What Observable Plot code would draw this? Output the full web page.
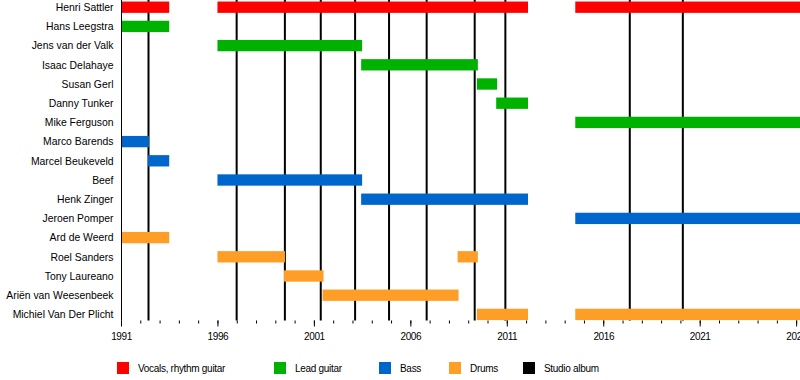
<!DOCTYPE html>
<html>
<head>
<meta charset="utf-8">
<script src="https://cdn.jsdelivr.net/npm/d3@7"></script>
<script src="https://cdn.jsdelivr.net/npm/@observablehq/plot@0.6"></script>
<style>
  html, body { margin: 0; padding: 0; background: white; }
  body { position: relative; width: 800px; height: 380px; overflow: hidden; font-family: "Liberation Sans", Arial, sans-serif; }
  #chart svg { display: block; }
  #chart g[aria-label="x-axis tick label"] text { letter-spacing: -0.4px; }
  .legend { position: absolute; top: 362px; left: 0; width: 800px; height: 14px; }
  .item { position: absolute; top: 0; height: 12px; display: flex; align-items: center; font-size: 10px; letter-spacing: -0.3px; color: black; white-space: nowrap; }
  .sw { width: 12px; height: 12px; margin-right: 9px; flex: none; }
</style>
</head>
<body>
<div id="chart"></div>
<div class="legend" id="legend"></div>
<script>
const START = 1991;
const END = 2026.2;

const members = ["Henri Sattler","Hans Leegstra","Jens van der Valk","Isaac Delahaye","Susan Gerl","Danny Tunker","Mike Ferguson","Marco Barends","Marcel Beukeveld","Beef","Henk Zinger","Jeroen Pomper","Ard de Weerd","Roel Sanders","Tony Laureano","Ariën van Weesenbeek","Michiel Van Der Plicht"];

const roles = ["Vocals, rhythm guitar","Lead guitar","Bass","Drums"];
const roleColors = ["#ff0000","#00b200","#0066cc","#ff9e26"];

const vocals = [["Henri Sattler",1991,1993.5],["Henri Sattler",1996,2012.1],["Henri Sattler",2014.55,END]];
const leadGuitar = [["Hans Leegstra",1991,1993.5],["Jens van der Valk",1996,2003.5],["Isaac Delahaye",2003.45,2009.5],["Susan Gerl",2009.45,2010.5],["Danny Tunker",2010.45,2012.1],["Mike Ferguson",2014.55,END]];
const bass = [["Marco Barends",1991,1992.45],["Marcel Beukeveld",1992.4,1993.5],["Beef",1996,2003.5],["Henk Zinger",2003.45,2012.1],["Jeroen Pomper",2014.55,END]];
const drums = [["Ard de Weerd",1991,1993.5],["Roel Sanders",1996,1999.5],["Roel Sanders",2008.45,2009.5],["Tony Laureano",1999.45,2001.5],["Ariën van Weesenbeek",2001.45,2008.5],["Michiel Van Der Plicht",2009.45,2012.1],["Michiel Van Der Plicht",2014.55,END]];

const albums = [1992.4,1996.97,1999.47,2001.33,2003.11,2004.87,2006.82,2009.31,2010.9,2017.35,2020.1];

const majorTicks = [1991,1996,2001,2006,2011,2016,2021,2026];
const minorTicks = d3.range(1991, 2027);

const legendLabels = ["Vocals, rhythm guitar","Lead guitar","Bass","Drums","Studio album"];
const legendColors = [...roleColors, "#000000"];

const spans = [vocals, leadGuitar, bass, drums].flatMap((list, i) =>
  list.map(([member, start, end]) => ({member, role: roles[i], start, end})));

const chart = Plot.plot({
  width: 800,
  height: 345,
  marginLeft: 121,
  marginRight: 0,
  marginTop: 0,
  marginBottom: 24.5,
  style: {fontFamily: "Liberation Sans, Arial, sans-serif", fontSize: "10px", color: "black", background: "white"},
  x: {domain: [START, END]},
  y: {domain: members, range: [-2.4, 324], paddingInner: 0.41, paddingOuter: 0.205, align: 0.5, round: false, label: null},
  color: {domain: roles, range: roleColors},
  marks: [
    Plot.ruleX(albums, {stroke: "black", strokeWidth: 2}),
    Plot.barX(spans, {x1: "start", x2: "end", y: "member", fill: "role"}),
    Plot.ruleX([START], {stroke: "black"}),
    Plot.axisY({tickSize: 0, tickPadding: 8, fontSize: 10.4, label: null}),
    Plot.axisX(minorTicks, {tickSize: 3, tickFormat: () => "", label: null}),
    Plot.axisX(majorTicks, {tickSize: 6, tickPadding: 6, tickFormat: d => String(d), line: true, label: null})
  ]
});
document.getElementById("chart").appendChild(chart);

const legendLefts = [117, 274, 379, 449, 523];
const legend = document.getElementById("legend");
legendLabels.forEach((label, i) => {
  const item = document.createElement("div");
  item.className = "item";
  item.style.left = legendLefts[i] + "px";
  const sw = document.createElement("span");
  sw.className = "sw";
  sw.style.background = legendColors[i];
  const t = document.createElement("span");
  t.textContent = label;
  item.appendChild(sw);
  item.appendChild(t);
  legend.appendChild(item);
});
</script>
</body>
</html>
